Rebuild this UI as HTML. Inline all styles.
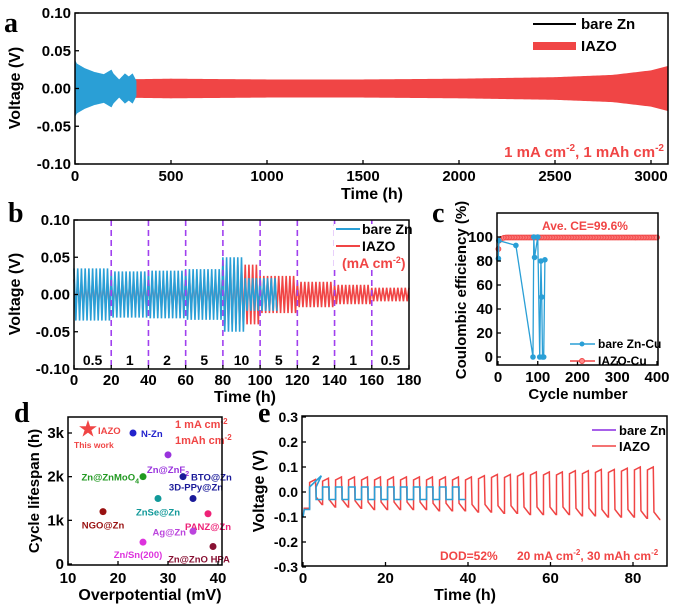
<!DOCTYPE html>
<html><head><meta charset="utf-8"><style>
body{margin:0;background:#fff}
svg{display:block;font-family:"Liberation Sans",Arial,sans-serif;font-weight:bold}
</style></head><body>
<svg id="fig" width="680" height="604" viewBox="0 0 680 604" xmlns="http://www.w3.org/2000/svg">
<g id="pa"></g>
<g id="pb"></g>
<g id="pc"></g>
<g id="pd"></g>
<g id="pe"></g>
</svg>
<script>
// ---------- DATA ----------
const aBareTimes=[0,10,50,100,150,190,200,230,260,280,300,320];
const aBareAmp=[0.038,0.033,0.027,0.022,0.019,0.025,0.020,0.012,0.020,0.016,0.020,0.010];
const aIazoTimes=[220,500,1000,1500,2000,2500,2800,3000,3090];
const aIazoAmp=[0.012,0.013,0.012,0.012,0.013,0.015,0.018,0.024,0.030];
const aXTicks=[0,500,1000,1500,2000,2500,3000];
const aYTicks=[0.10,0.05,0.00,-0.05,-0.10];
const bRates=["0.5","1","2","5","10","5","2","1","0.5"];
const bSegStart=[0,20,40,60,80,100,120,140,160];
const bBareSegEnd=[20,40,60,80,92,110];
const bBareAmp=[0.035,0.031,0.032,0.034,0.050,0.022];
const bIazoAmp=[0.020,0.021,0.022,0.024,0.040,0.025,0.017,0.013,0.009];
const bXTicks=[0,20,40,60,80,100,120,140,160,180];
const bYTicks=[0.10,0.05,0.00,-0.05,-0.10];
const cBareCycles=[1,2,45,88,90,92,100,105,108,110,112,115,118];
const cBareCE=[82,97,93,0,100,83,100,0,80,50,0,0,81];
const cIazoCycles=[1,3,8,15];
const cIazoCE=[90,97,98.5,99.4];
const cIazoAvg=99.6;
const cXTicks=[0,100,200,300,400];
const cYTicks=[0,20,40,60,80,100];
const dNames=["N-Zn","Zn@ZnF2","Zn@ZnMoO4","BTO@Zn","3D-PPy@Zn","ZnSe@Zn","NGO@Zn","PANZ@Zn","Ag@Zn","Zn/Sn(200)","Zn@ZnO HPA"];
const dOver=[23,30,25,33,35,28,17,38,35,25,39];
const dLife=[3000,2500,2000,2000,1500,1500,1200,1150,750,500,400];
const dColors=["#2222cc","#9933dd","#229922","#1a1a99","#1a1a99","#119999","#991111","#ee2277","#bb44dd","#dd33dd","#881133"];
const dStar=[14,3100];
const dXTicks=[10,20,30,40];
const dYTicks=[0,1000,2000,3000];
const eBareHigh=[0.02,0.02,0.02,0.02,0.02,0.02,0.02,0.02,0.02,0.02,0.02,0.02];
const eBareLow=[-0.03,-0.03,-0.03,-0.03,-0.03,-0.03,-0.03,-0.03,-0.03,-0.03,-0.03,-0.03];
const eIazoHigh=[0.05,0.055,0.06,0.06,0.06,0.06,0.06,0.06,0.06,0.06,0.06,0.06,0.06,0.065,0.07,0.07,0.075,0.08,0.08,0.08,0.085,0.085,0.09,0.09,0.095,0.1,0.1];
const eIazoLow=[-0.05,-0.06,-0.06,-0.065,-0.07,-0.07,-0.07,-0.07,-0.07,-0.075,-0.075,-0.075,-0.08,-0.08,-0.085,-0.085,-0.09,-0.09,-0.09,-0.09,-0.095,-0.095,-0.1,-0.1,-0.1,-0.105,-0.11];
const eXTicks=[0,20,40,60,80];
const eYTicks=[0.3,0.2,0.1,0.0,-0.1,-0.2,-0.3];

// ---------- HELPERS ----------
const NS="http://www.w3.org/2000/svg";
function mk(parent,tag,attrs,text){const e=document.createElementNS(NS,tag);for(const k in attrs)e.setAttribute(k,attrs[k]);if(text!==undefined)e.textContent=text;parent.appendChild(e);return e;}
function lin(d0,d1,r0,r1){return v=>r0+(v-d0)*(r1-r0)/(d1-d0);}
function interp(ts,vs,t){if(t<=ts[0])return vs[0];for(let i=1;i<ts.length;i++){if(t<=ts[i]){const f=(t-ts[i-1])/(ts[i]-ts[i-1]);return vs[i-1]+f*(vs[i]-vs[i-1]);}}return vs[vs.length-1];}
function fmt(v,d){return v.toFixed(d);}
const BLUE="#2a9fd6",RED="#f04545";

function axesBox(g,x0,y0,x1,y1){const r=mk(g,'rect',{x:x0,y:y0,width:x1-x0,height:y1-y0,fill:'none',stroke:'#000','stroke-width':1.5});}
function yAxis(g,ys,vals,x0,labels,fs){vals.forEach((v,i)=>{const y=ys(v);mk(g,'line',{x1:x0,x2:x0+4,y1:y,y2:y,stroke:'#000','stroke-width':1.3});const t=mk(g,'text',{x:x0-4,y:y+5,'text-anchor':'end','font-size':fs},labels[i]);});}
function xAxis(g,xs,vals,y0,labels,fs,ly){vals.forEach((v,i)=>{const x=xs(v);mk(g,'line',{x1:x,x2:x,y1:y0,y2:y0-4,stroke:'#000','stroke-width':1.3});const t=mk(g,'text',{x:x,y:ly,'text-anchor':'middle','font-size':fs},labels[i]);});}
function title(g,x,y,txt,fs,rot,name){const t=mk(g,'text',{x:x,y:y,'text-anchor':'middle','font-size':fs,transform:rot?`rotate(-90 ${x} ${y})`:''},txt);return t;}
function plabel(g,x,y,c){const t=mk(g,'text',{x:x,y:y,'font-size':28,'font-family':'Liberation Serif,serif','font-weight':'bold'},c);}

// ---------- PANEL A ----------
(function(){
const g=document.getElementById('pa');
const xs=lin(0,3000,75,651), ys=lin(0.10,-0.10,13,164);
plabel(g,4,32,'a');
let up=[],dn=[];
for(let t=aIazoTimes[0];t<=aIazoTimes[aIazoTimes.length-1];t+=10){const a=interp(aIazoTimes,aIazoAmp,t);up.push(`${xs(t)},${ys(a)}`);dn.unshift(`${xs(t)},${ys(-a)}`);}
let p=mk(g,'polygon',{points:up.concat(dn).join(' '),fill:RED});

up=[];dn=[];
for(let t=0;t<=aBareTimes[aBareTimes.length-1];t+=2){const a=interp(aBareTimes,aBareAmp,t);up.push(`${xs(t)},${ys(a)}`);dn.unshift(`${xs(t)},${ys(-a)}`);}
p=mk(g,'polygon',{points:up.concat(dn).join(' '),fill:BLUE});

axesBox(g,75,13,668,164);
yAxis(g,ys,aYTicks,75,aYTicks.map(v=>fmt(v,2)),15);
xAxis(g,xs,aXTicks,164,aXTicks.map(String),15,181);
title(g,372,199,'Time (h)',16,false,'x-axis-title');
title(g,20,88,'Voltage (V)',16,true,'y-axis-title');
const lg=mk(g,'g',{});
mk(lg,'line',{x1:533,x2:576,y1:24,y2:24,stroke:'#000','stroke-width':2});
mk(lg,'text',{x:581,y:29,'font-size':15},'bare Zn');
mk(lg,'line',{x1:533,x2:576,y1:46,y2:46,stroke:RED,'stroke-width':8});
mk(lg,'text',{x:581,y:51,'font-size':15},'IAZO');
const t=mk(g,'text',{x:664,y:157,'text-anchor':'end','font-size':15,fill:RED});
t.innerHTML='1 mA cm<tspan dy="-6" font-size="10">-2</tspan><tspan dy="6">, 1 mAh cm</tspan><tspan dy="-6" font-size="10">-2</tspan>';

})();

// ---------- PANEL B ----------
(function(){
const g=document.getElementById('pb');
const xs=lin(0,180,74,409), ys=lin(0.10,-0.10,220,369);
plabel(g,8,222,'b');
function draw(ampAt,tEnd,col,name){let pts=[];const per=2;
 for(let k=0;k*per/2<=tEnd;k++){const t=k*per/2;const a=ampAt(t);if(a==null)break;const s=(k%2===0)?1:-1;pts.push(`${xs(t)},${ys(s*a)}`);}
 const pl=mk(g,'polyline',{points:pts.join(' '),fill:'none',stroke:col,'stroke-width':1.6});
 }
draw(t=>bIazoAmp[Math.min(8,Math.floor(t/20))],180,RED,'iazo-series');
draw(t=>{for(let i=0;i<bBareSegEnd.length;i++){if(t<bBareSegEnd[i])return bBareAmp[i];}return null;},180,BLUE,'bare-zn-series');
bSegStart.forEach((s,i)=>{if(i>0){const l=mk(g,'line',{x1:xs(s),x2:xs(s),y1:220,y2:369,stroke:'#a040ee','stroke-width':1.6,'stroke-dasharray':'6,4'});}
 const t=mk(g,'text',{x:xs(s+10),y:365,'text-anchor':'middle','font-size':14},bRates[i]);});
axesBox(g,74,220,409,369);
yAxis(g,ys,bYTicks,74,bYTicks.map(v=>fmt(v,2)),15);
xAxis(g,xs,bXTicks,369,bXTicks.map(String),15,385);
title(g,245,402,'Time (h)',16,false,'x-axis-title');
title(g,20,294,'Voltage (V)',16,true,'y-axis-title');
const lg=mk(g,'g',{});
mk(lg,'rect',{x:334,y:224,width:74,height:42,fill:'#fff'});
mk(lg,'line',{x1:336,x2:360,y1:229,y2:229,stroke:BLUE,'stroke-width':2});
mk(lg,'text',{x:362,y:234,'font-size':14},'bare Zn');
mk(lg,'line',{x1:336,x2:360,y1:246,y2:246,stroke:RED,'stroke-width':2});
mk(lg,'text',{x:362,y:251,'font-size':14},'IAZO');
const t=mk(g,'text',{x:342,y:268,'font-size':14,fill:RED});t.innerHTML='(mA cm<tspan dy="-5" font-size="9">-2</tspan><tspan dy="5">)</tspan>';

})();

// ---------- PANEL C ----------
(function(){
const g=document.getElementById('pc');
const xs=lin(0,400,498,657), ys=lin(0,100,357,237);
plabel(g,432,222,'c');
let pts=cIazoCycles.map((c,i)=>[c,cIazoCE[i]]);for(let c=20;c<=400;c+=4)pts.push([c,cIazoAvg]);
const pl=mk(g,'polyline',{points:pts.map(p=>`${xs(p[0])},${ys(p[1])}`).join(' '),fill:'none',stroke:RED,'stroke-width':1.2});

pts.forEach(p=>{const c=mk(g,'circle',{cx:xs(p[0]),cy:ys(p[1]),r:2.5,fill:'#f88',stroke:RED,'stroke-width':0.8});});
const bl=mk(g,'polyline',{points:cBareCycles.map((c,i)=>`${xs(c)},${ys(cBareCE[i])}`).join(' '),fill:'none',stroke:BLUE,'stroke-width':1.3});

cBareCycles.forEach((c,i)=>{const e=mk(g,'circle',{cx:xs(c),cy:ys(cBareCE[i]),r:2.8,fill:BLUE});});
axesBox(g,497,213,658,365);
yAxis(g,ys,cYTicks,497,cYTicks.map(String),15);
xAxis(g,xs,cXTicks,365,cXTicks.map(String),15,382);
title(g,578,399,'Cycle number',15,false,'x-axis-title');
title(g,466,290,'Coulombic efficiency (%)',15,true,'y-axis-title');
const t=mk(g,'text',{x:542,y:230,'font-size':12,fill:RED},'Ave. CE=99.6%');
const lg=mk(g,'g',{});
mk(lg,'line',{x1:570,x2:595,y1:344,y2:344,stroke:BLUE,'stroke-width':1.5});mk(lg,'circle',{cx:582,cy:344,r:2.5,fill:BLUE});
mk(lg,'text',{x:598,y:348,'font-size':12},'bare Zn-Cu');
mk(lg,'line',{x1:570,x2:595,y1:361,y2:361,stroke:RED,'stroke-width':1.5});mk(lg,'circle',{cx:582,cy:361,r:2.5,fill:'#f88',stroke:RED});
mk(lg,'text',{x:598,y:365,'font-size':12},'IAZO-Cu');
})();

// ---------- PANEL D ----------
(function(){
const g=document.getElementById('pd');
const xs=lin(10,40,68,218), ys=lin(0,3000,564,433);
plabel(g,14,422,'d');
const offs=[[8,4,'start'],[0,18,'middle'],[-4,4,'end'],[8,4,'start'],[3,-8,'middle'],[0,17,'middle'],[0,17,'middle'],[0,16,'middle'],[-7,4,'end'],[-5,16,'middle'],[-14,16,'middle']];
dNames.forEach((n,i)=>{const x=xs(dOver[i]),y=ys(dLife[i]);
 const c=mk(g,'circle',{cx:x,cy:y,r:3.5,fill:dColors[i]});
 const [dx,dy,an]=offs[i];
 const t=mk(g,'text',{x:x+dx,y:y+dy,'font-size':9.5,'text-anchor':an,fill:dColors[i]});
 if(n==='Zn@ZnF2')t.innerHTML='Zn@ZnF<tspan font-size="7" dy="3">2</tspan>';else if(n==='Zn@ZnMoO4')t.innerHTML='Zn@ZnMoO<tspan font-size="7" dy="3">4</tspan>';else t.textContent=n;
 });
const st=mk(g,'text',{x:xs(dStar[0]),y:ys(dStar[1])+7,'text-anchor':'middle','font-size':20,fill:RED},'★');
mk(g,'text',{x:98,y:434,'font-size':9.5,fill:RED},'IAZO');
mk(g,'text',{x:74,y:448,'font-size':8.5,fill:RED},'This work');
mk(g,'text',{x:175,y:428,'font-size':11,fill:RED}).innerHTML='1 mA cm<tspan dy="-4" font-size="8">-2</tspan>';
mk(g,'text',{x:175,y:444,'font-size':11,fill:RED}).innerHTML='1mAh cm<tspan dy="-4" font-size="8">-2</tspan>';
axesBox(g,68,417,222,565);
yAxis(g,ys,dYTicks,68,['0','1k','2k','3k'],15);
xAxis(g,xs,dXTicks,565,dXTicks.map(String),15,583);
title(g,150,600,'Overpotential (mV)',16,false,'x-axis-title');
title(g,39,491,'Cycle lifespan (h)',15,true,'y-axis-title');
})();

// ---------- PANEL E ----------
(function(){
const g=document.getElementById('pe');
const xs=lin(0,80,303,633), ys=lin(0.3,-0.3,417,567);
plabel(g,258,422,'e');
const per=3.15,t0=1.6;
let pts=[[0,-0.1],[0.3,-0.065],[t0,-0.065]];
eIazoHigh.forEach((h,i)=>{const s=t0+i*per;const l=eIazoLow[i];
 pts.push([s,h-0.012],[s+per*0.45,h],[s+per*0.5,l+0.03],[s+per*0.95,l],[s+per,l]);});
const rl=mk(g,'polyline',{points:pts.filter(p=>p[0]<=88).map(p=>`${xs(p[0])},${ys(p[1])}`).join(' '),fill:'none',stroke:RED,'stroke-width':1.5});

let bp=[[0,-0.1],[0.3,-0.07],[t0,-0.07]];
eBareHigh.forEach((h,i)=>{const s=t0+i*per;bp.push([s,h],[s+per/2,h],[s+per/2,eBareLow[i]],[s+per,eBareLow[i]]);});
bp.splice(4,0,[t0+per*0.9,0.065]);
const bl=mk(g,'polyline',{points:bp.map(p=>`${xs(p[0])},${ys(p[1])}`).join(' '),fill:'none',stroke:BLUE,'stroke-width':1.6});

axesBox(g,302,416,667,566);
yAxis(g,ys,eYTicks,302,eYTicks.map(v=>fmt(v,1)),14);
xAxis(g,xs,eXTicks,566,eXTicks.map(String),15,583);
title(g,465,600,'Time (h)',16,false,'x-axis-title');
title(g,264,491,'Voltage (V)',16,true,'y-axis-title');
const lg=mk(g,'g',{});
mk(lg,'line',{x1:592,x2:616,y1:430,y2:430,stroke:'#8a2be2','stroke-width':1.6});
mk(lg,'text',{x:619,y:435,'font-size':13},'bare Zn');
mk(lg,'line',{x1:592,x2:616,y1:446,y2:446,stroke:RED,'stroke-width':1.6});
mk(lg,'text',{x:619,y:451,'font-size':13},'IAZO');
mk(g,'text',{x:440,y:560,'font-size':12,fill:RED},'DOD=52%');
mk(g,'text',{x:517,y:560,'font-size':12,fill:RED}).innerHTML='20 mA cm<tspan dy="-5" font-size="8">-2</tspan><tspan dy="5">, 30 mAh cm</tspan><tspan dy="-5" font-size="8">-2</tspan>';
})();
</script>
</body></html>
